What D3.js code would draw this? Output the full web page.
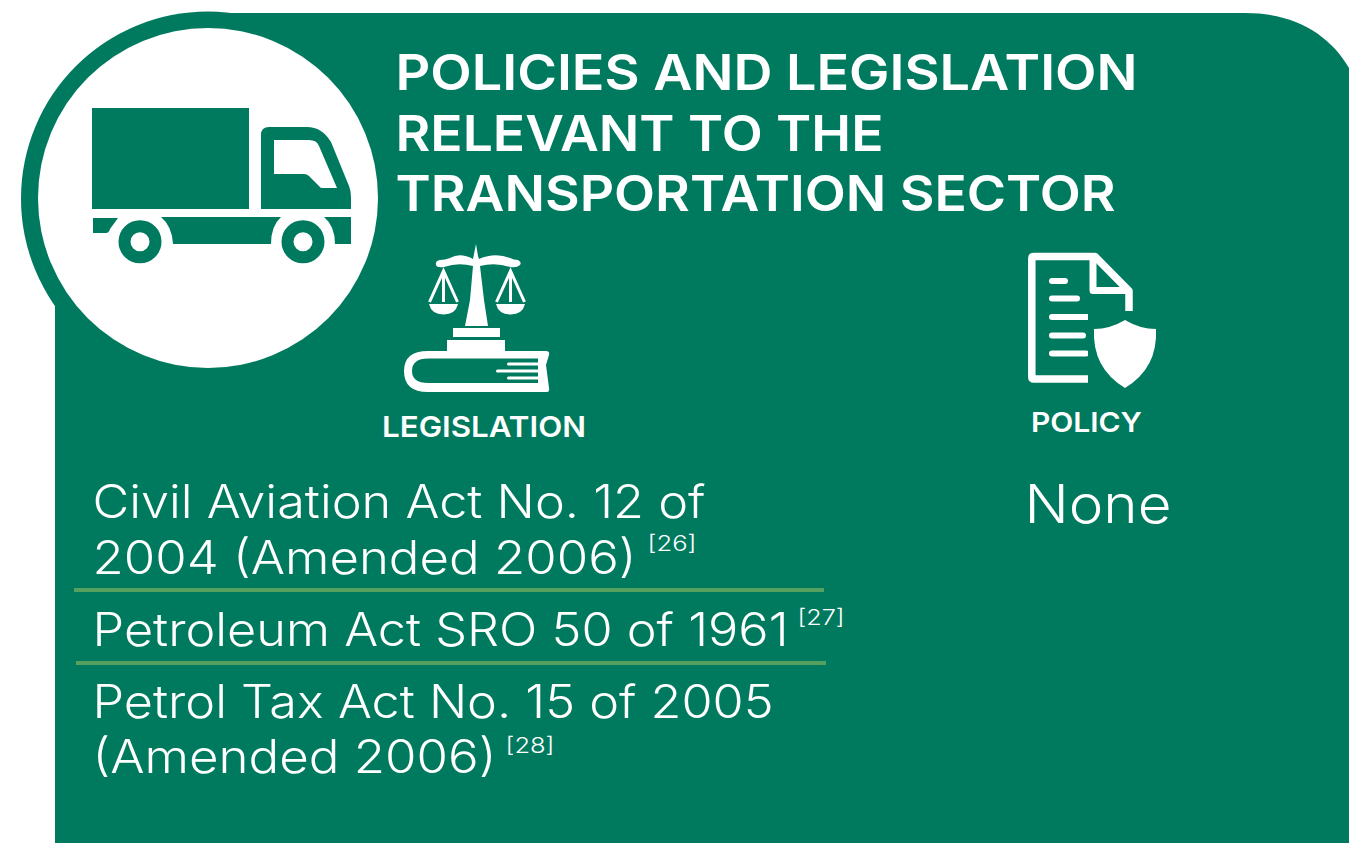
<!DOCTYPE html>
<html><head><meta charset="utf-8">
<script src="https://cdn.jsdelivr.net/npm/d3@7"></script>
<style>html,body{margin:0;padding:0;background:#fff;overflow:hidden}svg{display:block}text{font-family:Inter,"Open Sans",sans-serif}</style>
</head><body><svg id="c" width="1349" height="843"></svg>
<script>
const GREEN="#007a5e", RULE="#56a15f", WHITE="#ffffff";
const titleLines=["POLICIES AND LEGISLATION","RELEVANT TO THE","TRANSPORTATION SECTOR"];
const columnHeads=["LEGISLATION","POLICY"];
const legislation=[
 {lines:["Civil Aviation Act No. 12 of","2004 (Amended 2006)"],ref:"[26]"},
 {lines:["Petroleum Act SRO 50 of 1961"],ref:"[27]"},
 {lines:["Petrol Tax Act No. 15 of 2005","(Amended 2006)"],ref:"[28]"}];
const policyText=["None"];

const svg=d3.select("#c");
svg.append("path").attr("fill",GREEN).attr("d","M55 843V305L208 198V13H1245C1295 13 1330 35 1349 68V843Z");
svg.append("circle").attr("cx",208).attr("cy",198.5).attr("r",187).attr("fill",GREEN);
svg.append("circle").attr("cx",208).attr("cy",198).attr("r",170).attr("fill",WHITE);

// truck
const truck=svg.append("g").attr("fill",GREEN);
truck.append("rect").attr("x",92).attr("y",108).attr("width",157).attr("height",101);
truck.append("path").attr("fill-rule","evenodd").attr("d","M261 209V135Q261 127 269 127H307Q322 127 331 142L349 186Q351 191 351 197V209ZM274 140V174H304Q307 174 309 176L319 186Q320 188 322 188H337L319 146Q317 140 309 140Z");
truck.append("path").attr("d","M93 218H118L110 229Q109 233 106 233H93Z");
truck.append("path").attr("d","M161 217H281Q271 226 271 244H173Q172 226 161 217Z");
truck.append("path").attr("d","M324 217H351V244H335Q335 226 324 217Z");
[140,303].forEach(cx=>{
 truck.append("circle").attr("cx",cx).attr("cy",241.7).attr("r",15.5).attr("fill","none").attr("stroke",GREEN).attr("stroke-width",12);
});

// scales icon
const sc=svg.append("g").attr("fill",WHITE);
sc.append("path").attr("d","M476 244L478 256L479 259Q495 252 510 258Q514 260 518 260Q522 262 520 265Q517 268 510 267Q495 262 480 266L484 300L488 326H465L470 300L473 266Q458 262 444 267Q437 268 436 265Q435 261 440 260Q445 260 450 258Q460 252 473 259Z");
sc.append("rect").attr("x",453).attr("y",328).attr("width",47).attr("height",9);
sc.append("rect").attr("x",447).attr("y",340).attr("width",58).attr("height",12);
sc.append("path").attr("fill-rule","evenodd").attr("d","M428 351H546Q550 351 549 355L546 365L549 388Q550 392 546 392H428Q404 392 404 371Q404 351 428 351ZM428 358.500Q412 358.500 412 371Q412 383 428 383H538L538 358.500Z");
[[496,371,42],[507,364,31],[507,378,31]].forEach(d=>sc.append("rect").attr("x",d[0]).attr("y",d[1]-1.5).attr("width",d[2]+4).attr("height",3).attr("rx",1.5));
[443.5,510.5].forEach(c=>{
 sc.append("path").attr("d",`M${c-14.5} 304H${c+14.5}Q${c+12} 314.500 ${c} 314.500Q${c-12} 314.500 ${c-14.5} 304Z`);
 sc.append("path").attr("d",`M${c-14} 302L${c} 271L${c+14} 302`).attr("fill","none").attr("stroke",WHITE).attr("stroke-width",3);
 sc.append("line").attr("x1",c).attr("x2",c).attr("y1",273).attr("y2",302).attr("stroke",WHITE).attr("stroke-width",3);
});

// document icon
const doc=svg.append("g");
doc.append("path").attr("fill","none").attr("stroke",WHITE).attr("stroke-width",7.500).attr("stroke-linejoin","round")
 .attr("d","M1098 379H1034Q1031.8 379 1031.8 377V258.500Q1031.8 256.500 1034 256.500H1095L1129 291V311");
doc.append("path").attr("fill","none").attr("stroke",WHITE).attr("stroke-width",7).attr("stroke-linejoin","round")
 .attr("d","M1093 258V290.500H1129");
[[1052,1065,281],[1052,1077,298.500],[1052,1097,317],[1052,1083,335.500],[1052,1086,353.500]].forEach(d=>
 doc.append("line").attr("x1",d[0]).attr("x2",d[1]).attr("y1",d[2]).attr("y2",d[2]).attr("stroke",WHITE).attr("stroke-width",6).attr("stroke-linecap","round"));
doc.append("path").attr("fill",GREEN).attr("d","M1088 312H1165V395H1088Z");
doc.append("path").attr("fill",WHITE).attr("d","M1125 320Q1140 329 1156 329Q1158 368 1125 388Q1092 368 1094 329Q1110 329 1125 320Z");

// text
const text=(x,y,s,size,weight)=>svg.append("text").attr("x",x).attr("y",y).attr("fill",WHITE).attr("font-size",size).attr("font-weight",weight).text(s);
const fit=(t,w)=>t.attr("textLength",w).attr("lengthAdjust","spacingAndGlyphs");
const titleWidths=[742,488,720], titleY=[90,150.5,211];
titleLines.forEach((s,i)=>fit(text(395.5,titleY[i],s,50,600),titleWidths[i]));
fit(text(382,437,columnHeads[0],29,600),204);
fit(text(1031,432,columnHeads[1],27,600),111);

const rows=[[518,574],[645.5],[718,773]];
const widths=[[613,544],[696],[681,404]];
const refX=[647.5,797.5,505.5], refY=[551,624.5,752.5];
legislation.forEach((d,i)=>{
 d.lines.forEach((s,j)=>fit(text(92.5,rows[i][j],s,46,300),widths[i][j]));
 fit(text(refX[i],refY[i],d.ref,21,300),[49,47,49][i]);
});
fit(text(1024.5,523,policyText[0],53,300),147);
[[74,824,590],[76,826,663]].forEach(r=>svg.append("line").attr("x1",r[0]).attr("x2",r[1]).attr("y1",r[2]).attr("y2",r[2]).attr("stroke",RULE).attr("stroke-width",4));
</script></body></html>
